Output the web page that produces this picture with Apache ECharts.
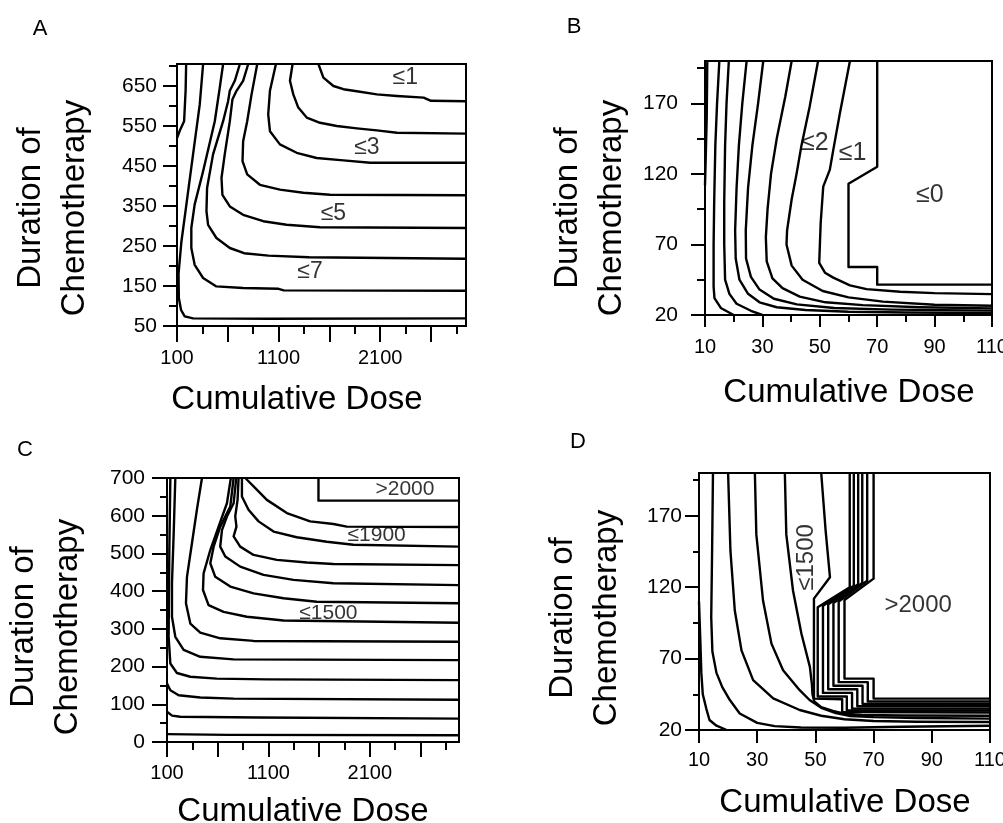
<!DOCTYPE html>
<html>
<head>
<meta charset="utf-8">
<title>Duration of chemotherapy vs cumulative dose</title>
<script src="https://cdn.jsdelivr.net/npm/echarts@6/dist/echarts.min.js"></script>
<style>
  html, body { margin: 0; padding: 0; background: #fff; }
  #chart { width: 1003px; height: 823px; }
</style>
</head>
<body>
<div id="chart"></div>
<script>
const FONT = '"Liberation Sans", Arial, Helvetica, sans-serif';

// ---------- panel A ----------
const doseMajorA = [100, 600, 1100, 1600, 2100, 2600];
const doseMinorA = [350, 850, 1350, 1850, 2350, 2850];
const doseLabelsA = [100, 1100, 2100];
const durMajorA = [50, 150, 250, 350, 450, 550, 650];
const durMinorA = [100, 200, 300, 400, 500, 600, 700];
const contoursA = [
  [[100, 520], [130, 540], [170, 562], [185, 640], [190, 705]],
  [[357, 705], [324, 604], [258, 479], [192, 353], [143, 260], [115, 180], [118, 120], [140, 90], [176, 74], [258, 69], [1000, 68], [2945, 69]],
  [[554, 705], [521, 646], [472, 562], [357, 437], [274, 354], [241, 295], [241, 245], [274, 203], [357, 170], [488, 149], [751, 145], [1100, 143], [1150, 139], [2945, 138]],
  [[719, 705], [669, 663], [620, 638], [603, 612], [554, 562], [455, 479], [396, 395], [390, 337], [406, 303], [488, 270], [620, 245], [760, 232], [1000, 226], [1400, 222], [2945, 218]],
  [[801, 705], [751, 663], [686, 638], [646, 617], [620, 562], [570, 479], [538, 420], [547, 378], [620, 349], [751, 328], [949, 312], [1179, 303], [1508, 297], [2945, 295]],
  [[890, 705], [834, 629], [791, 562], [751, 512], [745, 462], [791, 429], [916, 403], [1113, 391], [1344, 383], [1607, 378], [2945, 377]],
  [[1074, 705], [1015, 638], [998, 579], [1015, 537], [1113, 504], [1278, 483], [1475, 470], [1738, 464], [2002, 458], [2945, 458]],
  [[1238, 705], [1212, 663], [1245, 629], [1294, 596], [1377, 571], [1508, 558], [1673, 550], [1870, 544], [2067, 539], [2265, 533], [2945, 531]],
  [[1492, 705], [1541, 671], [1640, 650], [1738, 642], [1870, 637], [2067, 629], [2265, 625], [2528, 621], [2600, 613], [2945, 612]]
];
const levelLabelsA = [[2347, 671, '≤1', 0], [1969, 495, '≤3', 0], [1640, 332, '≤5', 0], [1409, 186, '≤7', 0]];

// ---------- panel B ----------
const doseMajorB = [10, 30, 50, 70, 90, 110];
const doseMinorB = [20, 40, 60, 80, 100];
const durMajorB = [20, 70, 120, 170];
const durMinorB = [45, 95, 145, 195];
const contoursB = [
  [[10.8, 200], [10.6, 160], [10.3, 135], [10, 112]],
  [[15, 200], [14.2, 170], [13.6, 140], [13.2, 100], [13, 70], [13, 40], [13.3, 32], [15.5, 25], [20, 20]],
  [[18.3, 200], [17.5, 170], [17, 140], [16.7, 100], [16.7, 70], [17, 45], [18.5, 35], [21, 28], [26, 23], [30, 20]],
  [[24.5, 200], [23, 170], [21.8, 140], [21, 110], [20.5, 80], [20.7, 60], [22, 45], [25, 35], [29, 29], [35, 25.5], [45, 23.5], [60, 22.3], [80, 21.8], [110, 21.4]],
  [[30.3, 200], [28.5, 170], [26.5, 140], [25, 110], [24.2, 80], [24.3, 60], [26, 47], [29, 38], [34, 31.5], [42, 27.5], [55, 25], [75, 23.8], [110, 23.1]],
  [[40.2, 200], [38, 175], [35, 145], [33, 120], [31.8, 95], [31.2, 75], [31.5, 58], [33.5, 46], [37, 39], [43, 33], [52, 29], [65, 27], [85, 25.5], [110, 24.7]],
  [[49.4, 200], [46.5, 168], [43.6, 140], [41.9, 120], [40.2, 102], [38.6, 80], [38.4, 70], [40.2, 55], [44, 45], [51, 37], [60, 32.5], [72, 29.5], [90, 27.3], [110, 26.6]],
  [[60.5, 200], [57, 163], [54.7, 137], [53.5, 123], [51.2, 111], [50.3, 85], [49.8, 57], [51.8, 50], [54.7, 46.5], [60.5, 41], [66.3, 38.3], [78, 36.5], [90, 35.5], [110, 34.8]],
  [[70, 200], [70, 125], [60, 113], [60, 54], [70, 54], [70, 41.5], [110, 41.5]]
];
const levelLabelsB = [[48.3, 141.8, '≤2', 0], [61.4, 134.7, '≤1', 0], [88.3, 105.3, '≤0', 0]];

// ---------- panel C ----------
const doseMajorC = [100, 600, 1100, 1600, 2100, 2600];
const doseMinorC = [350, 850, 1350, 1850, 2350, 2850];
const doseLabelsC = [100, 1100, 2100];
const durMajorC = [0, 100, 200, 300, 400, 500, 600, 700];
const durMinorC = [50, 150, 250, 350, 450, 550, 650];
const contoursC = [
  [[1594, 700], [1594, 640], [2980, 640]],
  [[872, 700], [954, 678], [1085, 642], [1282, 607], [1512, 585], [1742, 578], [1873, 571], [2980, 570]],
  [[839, 700], [839, 651], [904, 616], [1003, 585], [1151, 558], [1380, 543], [1676, 531], [1938, 523], [2980, 518]],
  [[806, 700], [796, 642], [773, 598], [785, 571], [757, 545], [822, 518], [954, 496], [1183, 483], [1479, 476], [1742, 472], [2980, 469]],
  [[783, 700], [757, 633], [691, 598], [642, 562], [625, 518], [675, 492], [822, 465], [1052, 443], [1348, 430], [1742, 421], [2980, 416]],
  [[757, 700], [724, 624], [625, 571], [560, 518], [527, 474], [576, 438], [724, 412], [954, 394], [1249, 381], [1577, 372], [2980, 368]],
  [[730, 700], [691, 633], [609, 571], [527, 509], [461, 447], [455, 403], [510, 363], [658, 345], [888, 332], [1249, 322], [2980, 316]],
  [[445, 700], [395, 616], [346, 527], [297, 438], [287, 368], [330, 314], [428, 290], [625, 275], [954, 268], [2980, 266]],
  [[182, 700], [166, 554], [149, 421], [149, 332], [182, 279], [264, 244], [428, 226], [757, 219], [2980, 217]],
  [[133, 700], [123, 509], [116, 279], [133, 208], [198, 183], [330, 173], [592, 168], [1085, 166], [2980, 164]],
  [[100, 155], [133, 137], [215, 124], [428, 118], [757, 115], [2980, 112]],
  [[100, 80], [150, 70], [230, 67], [1000, 65], [2980, 62]],
  [[100, 21], [700, 19], [2980, 18]]
];
const levelLabelsC = [[2447, 669, '>2000', 0], [2168, 549, '≤1900', 0], [1692, 341, '≤1500', 0]];

// ---------- panel D ----------
const doseMajorD = [10, 30, 50, 70, 90, 110];
const doseMinorD = [];
const durMajorD = [20, 70, 120, 170];
const durMinorD = [45, 95, 145, 195];
const contoursD = [
  [[10, 110], [10.5, 80], [10.8, 60], [11.3, 45], [12.5, 35], [13.6, 27], [16, 23], [19.5, 20]],
  [[14.8, 200], [14.5, 145], [14.2, 99], [14.6, 75], [16, 60], [18, 50], [20.6, 41], [24, 31.6], [30, 25], [36, 22.7], [45, 21.7], [60, 21.6], [80, 22.3], [110, 23]],
  [[20, 200], [20.8, 145.6], [22.3, 103.7], [24.6, 75.8], [28.6, 54.9], [35.5, 42.1], [44.6, 34], [52, 30], [60, 27.5], [70, 26.3], [85, 25.8], [110, 25.6]],
  [[29.2, 200], [29.7, 157], [32, 110.7], [34.9, 80.5], [38.9, 61.9], [44.6, 47.9], [48, 41], [52, 35.5], [57, 31.8], [62, 29.8], [70, 29], [85, 28.4], [110, 28]],
  [[39.5, 200], [40, 157], [42.3, 117.7], [45.2, 87.4], [48.1, 64.2], [48.8, 52], [49, 45], [49.6, 40], [52, 36], [56, 33.3], [60, 31.5], [66, 30.5], [80, 30.2], [110, 30]],
  [[52, 200], [53.5, 160], [55, 127], [49.5, 112], [49.5, 42], [59.2, 41.5], [59.2, 32.6], [110, 32.3]],
  [[61.8, 200], [61.8, 120], [50.8, 106], [50.8, 43.5], [60.8, 43.5], [60.8, 33.7], [110, 33.7]],
  [[63.2, 200], [63.2, 121], [52.6, 107], [52.6, 46], [62.6, 46], [62.6, 35], [110, 35]],
  [[64.7, 200], [64.7, 122], [54.4, 108], [54.4, 48.5], [64.4, 48.5], [64.4, 36.6], [110, 36.6]],
  [[66.1, 200], [66.1, 123], [56.2, 109], [56.2, 51], [66.2, 51], [66.2, 38.3], [110, 38.3]],
  [[67.8, 200], [67.8, 124.5], [58, 110], [58, 53.5], [68, 53.5], [68, 40], [110, 40]],
  [[70, 200], [70, 126], [60, 111], [60, 56], [70, 56], [70, 42], [110, 42]]
];
const levelLabelsD = [[46.9, 140.9, '≤1500', 90], [85.3, 107.2, '>2000', 0]];

// ---------- layout ----------
const panels = [
  { letter: 'A', rect: { left: 177, top: 64, width: 289, height: 262 },
    x: { min: 100, max: 2945, major: doseMajorA, minor: doseMinorA, labels: doseLabelsA, len: [16, 8], margin: 22, font: 20 },
    y: { min: 50, max: 705, major: durMajorA, minor: durMinorA, labels: durMajorA, len: [14, 8], margin: 20, font: 21 },
    lines: contoursA, marks: levelLabelsA, markSize: 23,
    letterPos: [40, 29], xTitle: [297, 400], yTitle: [53, 208] },
  { letter: 'B', rect: { left: 705, top: 61, width: 287, height: 254 },
    x: { min: 10, max: 110, major: doseMajorB, minor: doseMinorB, labels: doseMajorB, len: [12, 7], margin: 22, font: 20 },
    y: { min: 20, max: 200, major: durMajorB, minor: durMinorB, labels: durMajorB, len: [14, 8], margin: 27, font: 21 },
    lines: contoursB, marks: levelLabelsB, markSize: 25,
    letterPos: [574, 27], xTitle: [849, 393], yTitle: [590, 208] },
  { letter: 'C', rect: { left: 167, top: 478, width: 292, height: 264 },
    x: { min: 100, max: 2980, major: doseMajorC, minor: doseMinorC, labels: doseLabelsC, len: [15, 8], margin: 21, font: 20 },
    y: { min: 0, max: 700, major: durMajorC, minor: durMinorC, labels: durMajorC, len: [15, 7], margin: 22, font: 21 },
    lines: contoursC, marks: levelLabelsC, markSize: 21,
    letterPos: [25, 450], xTitle: [303, 812], yTitle: [46, 627] },
  { letter: 'D', rect: { left: 699, top: 473, width: 291, height: 257 },
    x: { min: 10, max: 110, major: doseMajorD, minor: doseMinorD, labels: doseMajorD, len: [13, 0], margin: 20, font: 20 },
    y: { min: 20, max: 200, major: durMajorD, minor: durMinorD, labels: durMajorD, len: [14, 6], margin: 17, font: 21 },
    lines: contoursD, marks: levelLabelsD, markSize: 24,
    letterPos: [578, 442], xTitle: [845, 803], yTitle: [585, 618] }
];

const black = '#000';

function axisPair(dim, gridIndex, a) {
  const base = {
    type: 'value', gridIndex: gridIndex, min: a.min, max: a.max,
    position: dim === 'x' ? 'bottom' : 'left',
    splitLine: { show: false }, splitArea: { show: false }
  };
  const main = Object.assign({}, base, {
    axisLine: { show: true, onZero: false, lineStyle: { color: black, width: 2 } },
    axisTick: { show: true, customValues: a.major, length: a.len[0], lineStyle: { color: black, width: 2 } },
    axisLabel: {
      show: true, customValues: a.labels, margin: a.margin, color: black,
      fontSize: a.font, fontFamily: FONT, hideOverlap: false,
      formatter: function (v) { return String(v); }
    }
  });
  const sub = Object.assign({}, base, {
    axisLine: { show: false, onZero: false },
    axisTick: { show: a.minor.length > 0, customValues: a.minor, length: a.len[1], lineStyle: { color: black, width: 2 } },
    axisLabel: { show: false }
  });
  return [main, sub];
}

const grids = [], xAxes = [], yAxes = [], series = [], graphics = [];

panels.forEach(function (p, i) {
  grids.push(Object.assign({
    show: true, borderColor: black, borderWidth: 2, backgroundColor: 'transparent',
    containLabel: false, outerBoundsMode: 'none'
  }, p.rect));
  xAxes.push.apply(xAxes, axisPair('x', i, p.x));
  yAxes.push.apply(yAxes, axisPair('y', i, p.y));

  p.lines.forEach(function (pts) {
    series.push({
      type: 'line', xAxisIndex: 2 * i, yAxisIndex: 2 * i, data: pts,
      symbol: 'none', showSymbol: false, silent: true, animation: false,
      lineStyle: { color: black, width: 2.4, join: 'round' }, z: 3
    });
  });

  series.push({
    type: 'scatter', xAxisIndex: 2 * i, yAxisIndex: 2 * i, symbolSize: 0, silent: true, animation: false,
    itemStyle: { color: black },
    data: p.marks.map(function (m) {
      return { value: [m[0], m[1]], name: m[2], label: { rotate: m[3] } };
    }),
    label: {
      show: true, position: 'inside', color: black, fontSize: p.markSize, fontFamily: FONT,
      textBorderWidth: 0, textBorderColor: 'transparent',
      formatter: function (d) { return d.name; }
    },
    z: 5
  });

  graphics.push({
    type: 'text', x: p.letterPos[0], y: p.letterPos[1],
    style: { text: p.letter, font: '22px ' + FONT, fill: black, align: 'center', verticalAlign: 'middle', textAlign: 'center', textVerticalAlign: 'middle' }
  });
  graphics.push({
    type: 'text', x: p.xTitle[0], y: p.xTitle[1],
    style: { text: 'Cumulative Dose', font: '33px ' + FONT, fill: black, align: 'center', verticalAlign: 'middle', textAlign: 'center', textVerticalAlign: 'middle' }
  });
  graphics.push({
    type: 'text', x: p.yTitle[0], y: p.yTitle[1], rotation: Math.PI / 2,
    style: { text: 'Duration of\nChemotherapy', font: '33px ' + FONT, lineHeight: 44, fill: black, align: 'center', verticalAlign: 'middle', textAlign: 'center', textVerticalAlign: 'middle' }
  });
});

const chart = echarts.init(document.getElementById('chart'), null, { renderer: 'canvas' });
chart.setOption({
  backgroundColor: '#fff',
  animation: false,
  grid: grids,
  xAxis: xAxes,
  yAxis: yAxes,
  series: series,
  graphic: graphics
});
</script>
</body>
</html>
